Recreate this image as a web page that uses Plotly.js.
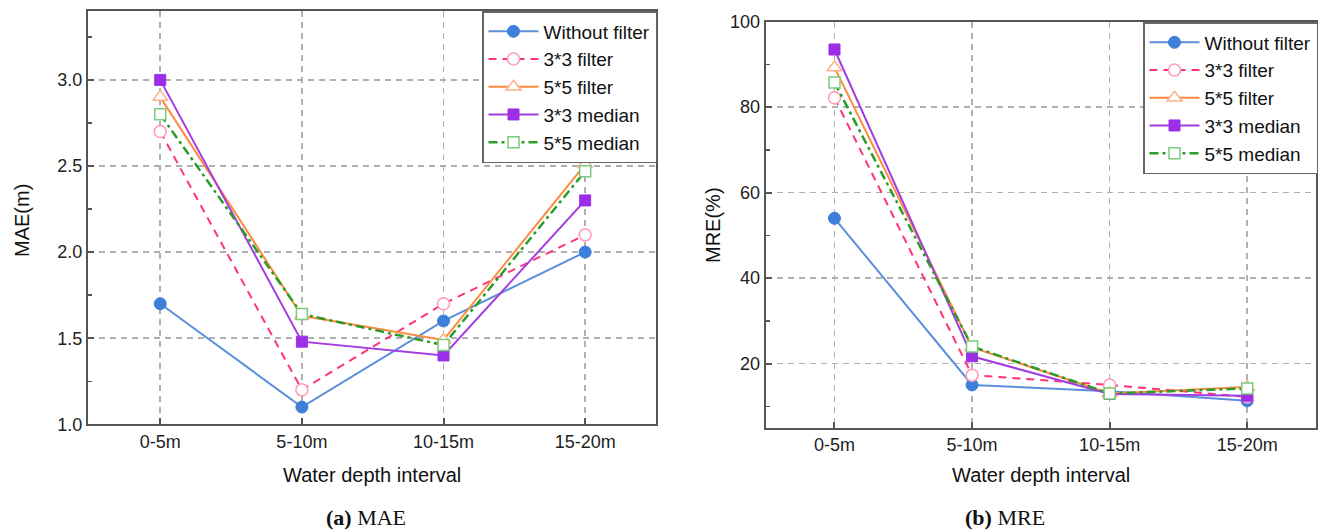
<!DOCTYPE html>
<html>
<head>
<meta charset="utf-8">
<script src="https://cdn.plot.ly/plotly-3.0.1.min.js"></script>
<style>
html,body{margin:0;padding:0;background:#fff;}
#chart{width:1322px;height:531px;}
</style>
</head>
<body>
<div id="chart"></div>
<script>
// ---- data ----
const categories = ['0-5m', '5-10m', '10-15m', '15-20m'];
const seriesNames = ['Without filter', '3*3 filter', '5*5 filter', '3*3 median', '5*5 median'];

const maeWithout = [1.70, 1.10, 1.60, 2.00];
const maeF33 = [2.70, 1.20, 1.70, 2.10];
const maeF55 = [2.90, 1.63, 1.49, 2.51];
const maeM33 = [3.00, 1.48, 1.40, 2.30];
const maeM55 = [2.80, 1.64, 1.46, 2.47];

const mreWithout = [54.0, 15.0, 13.5, 11.3];
const mreF33 = [82.2, 17.3, 15.0, 12.2];
const mreF55 = [89.3, 23.8, 13.0, 14.5];
const mreM33 = [93.5, 21.7, 12.9, 12.5];
const mreM55 = [85.8, 24.0, 13.0, 14.2];

const xTitle = 'Water depth interval';
const maeTitle = 'MAE(m)';
const mreTitle = 'MRE(%)';

// ---- styles ----
const styles = [
  {line: {color: '#5b8fdb', width: 2, dash: 'solid'}, marker: {symbol: 'circle', size: 12, color: '#3d7fd9', line: {color: '#3d7fd9', width: 1}}},
  {line: {color: '#ff3377', width: 2, dash: '8px,6px'}, marker: {symbol: 'circle', size: 12, color: 'white', line: {color: '#ff9ab8', width: 1.5}}},
  {line: {color: '#ff8a3d', width: 2, dash: 'solid'}, marker: {symbol: 'triangle-up', size: 13, color: 'white', line: {color: '#ffb089', width: 1.5}}},
  {line: {color: '#a43de0', width: 2, dash: 'solid'}, marker: {symbol: 'square', size: 11, color: '#9b2ee6', line: {color: '#9b2ee6', width: 1}}},
  {line: {color: '#2a9c2a', width: 2.5, dash: '9px,4px,3px,4px'}, marker: {symbol: 'square', size: 11, color: 'white', line: {color: '#7acc7a', width: 1.5}}}
];

const maeSeries = [maeWithout, maeF33, maeF55, maeM33, maeM55];
const mreSeries = [mreWithout, mreF33, mreF55, mreM33, mreM55];

const traces = [];
maeSeries.forEach((ys, i) => {
  traces.push({type: 'scatter', mode: 'lines+markers', x: categories, y: ys, name: seriesNames[i],
    xaxis: 'x', yaxis: 'y', legend: 'legend', line: styles[i].line, marker: styles[i].marker});
});
mreSeries.forEach((ys, i) => {
  traces.push({type: 'scatter', mode: 'lines+markers', x: categories, y: ys, name: seriesNames[i],
    xaxis: 'x2', yaxis: 'y2', legend: 'legend2', line: styles[i].line, marker: styles[i].marker});
});

const W = 1322, H = 531;
const px = v => v / W;
const py = v => (H - v) / H;

const sans = 'Liberation Sans, Arial, sans-serif';
const tickFont = {family: sans, size: 18, color: '#222'};
const axisCommon = {
  showline: true, linecolor: '#555', linewidth: 2, mirror: true,
  ticks: 'inside', ticklen: 6, tickwidth: 2, tickcolor: '#555',
  showgrid: true, gridcolor: '#b0b0b0', gridwidth: 1.5, griddash: '6px,5px',
  zeroline: false, tickfont: tickFont, fixedrange: true
};

const legendCommon = {
  font: {family: sans, size: 19, color: '#111'},
  bgcolor: 'white', bordercolor: '#666', borderwidth: 1.5,
  xanchor: 'right', yanchor: 'top', tracegroupgap: 0, itemwidth: 50
};

const titleFont = {family: sans, size: 20, color: '#111'};
const capFont = {family: 'Liberation Serif, Times New Roman, serif', size: 22, color: '#111'};

const layout = {
  width: W, height: H,
  margin: {l: 0, r: 0, t: 0, b: 0},
  paper_bgcolor: 'white', plot_bgcolor: 'white',
  showlegend: true,
  xaxis: Object.assign({}, axisCommon, {domain: [px(88), px(656)], type: 'category', range: [-0.51, 3.5], anchor: 'y'}),
  yaxis: Object.assign({}, axisCommon, {domain: [py(424.3), py(11)], range: [1.0, 3.4], tick0: 1, dtick: 0.5, tickformat: '.1f', anchor: 'x',
    minor: {ticks: 'inside', dtick: 0.25, tick0: 1, ticklen: 4, tickwidth: 1.5, tickcolor: '#555', showgrid: false}}),
  xaxis2: Object.assign({}, axisCommon, {domain: [px(765.7), px(1316)], type: 'category', range: [-0.5, 3.5], anchor: 'y2'}),
  yaxis2: Object.assign({}, axisCommon, {domain: [py(427.7), py(21.7)], range: [5, 100], tick0: 0, dtick: 20, anchor: 'x2',
    minor: {ticks: 'inside', dtick: 10, tick0: 0, ticklen: 4, tickwidth: 1.5, tickcolor: '#555', showgrid: false}}),
  legend: Object.assign({}, legendCommon, {x: px(657), y: py(11)}),
  legend2: Object.assign({}, legendCommon, {x: px(1318), y: py(22)}),
  annotations: [
    {text: xTitle, xref: 'paper', yref: 'paper', x: px(372), y: py(475), xanchor: 'center', yanchor: 'middle', showarrow: false, font: titleFont},
    {text: xTitle, xref: 'paper', yref: 'paper', x: px(1041), y: py(475), xanchor: 'center', yanchor: 'middle', showarrow: false, font: titleFont},
    {text: maeTitle, xref: 'paper', yref: 'paper', x: px(22), y: py(221), xanchor: 'center', yanchor: 'middle', textangle: -90, showarrow: false, font: titleFont},
    {text: mreTitle, xref: 'paper', yref: 'paper', x: px(713), y: py(225), xanchor: 'center', yanchor: 'middle', textangle: -90, showarrow: false, font: titleFont},
    {text: '<b>(a)</b> MAE', xref: 'paper', yref: 'paper', x: px(366), y: py(517), xanchor: 'center', yanchor: 'middle', showarrow: false, font: capFont},
    {text: '<b>(b)</b> MRE', xref: 'paper', yref: 'paper', x: px(1005), y: py(517), xanchor: 'center', yanchor: 'middle', showarrow: false, font: capFont}
  ]
};

Plotly.newPlot('chart', traces, layout, {displayModeBar: false, staticPlot: true});
</script>
</body>
</html>
